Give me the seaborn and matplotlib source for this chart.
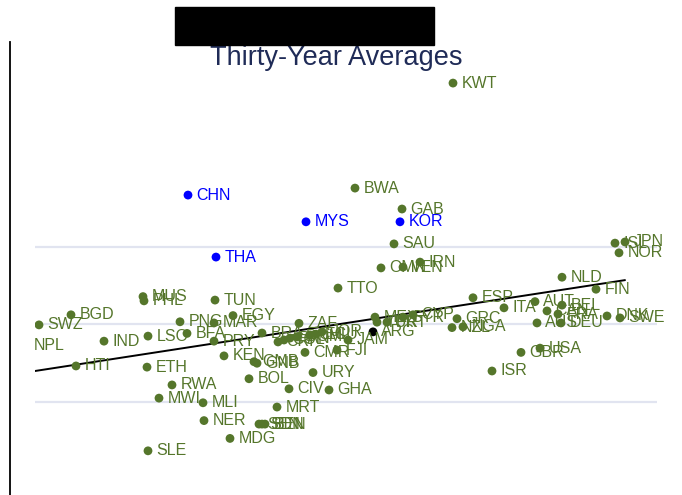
import numpy as np
import pandas as pd
import matplotlib
matplotlib.use("Agg")
import matplotlib.pyplot as plt
import seaborn as sns
from matplotlib.patches import Rectangle

# country codes, log initial income (x) and average growth (y)
countries = ["CHN", "MYS", "KOR", "THA",
             "KWT", "BWA", "GAB", "SAU", "OMN", "VEN", "IRN", "TTO", "TUN",
             "MUS", "PHL", "BGD", "SWZ", "NPL", "IND", "LSO", "PNG", "BFA",
             "HTI", "ETH", "RWA", "MWI", "MLI", "NER", "SLE", "MDG", "SEN",
             "SDN", "BEN", "MRT", "BOL", "CIV", "GHA", "URY", "KEN", "GMB",
             "GNB", "CMR", "FJI", "JAM", "ZAF", "EGY", "MAR", "PRY", "BRA",
             "CRI", "COL", "PAN", "DOM", "CHL", "ECU", "JOR", "MEX", "TUR",
             "PRT", "ARG", "SYR", "CYP", "GRC", "NZL", "NGA", "ESP", "ITA",
             "AUT", "BEL", "NLD", "FIN", "ISR", "GBR", "USA", "CAN", "FRA",
             "AUS", "DEU", "DNK", "SWE", "ISL", "JPN", "NOR"]
log_income = [6.765, 7.355, 7.825, 6.905,
              8.09, 7.60, 7.835, 7.795, 7.73, 7.84, 7.925, 7.515, 6.90,
              6.54, 6.545, 6.18, 6.02, 5.95, 6.345, 6.565, 6.725, 6.76,
              6.205, 6.56, 6.685, 6.62, 6.84, 6.845, 6.565, 6.975, 7.12,
              7.135, 7.15, 7.21, 7.07, 7.27, 7.47, 7.39, 6.945, 7.095,
              7.11, 7.35, 7.51, 7.565, 7.32, 6.99, 6.895, 6.895, 7.135,
              7.215, 7.245, 7.275, 7.31, 7.375, 7.405, 7.435, 7.70, 7.71,
              7.76, 7.69, 7.84, 7.89, 8.11, 8.085, 8.14, 8.19, 8.345,
              8.50, 8.635, 8.635, 8.805, 8.285, 8.43, 8.525, 8.56, 8.615,
              8.51, 8.63, 8.86, 8.925, 8.90, 8.95, 8.92]
growth = [5.34, 4.65, 4.65, 3.74,
          8.23, 5.52, 4.98, 4.08, 3.46, 3.48, 3.61, 2.94, 2.63,
          2.72, 2.61, 2.25, 1.99, 1.45, 1.57, 1.70, 2.07, 1.77,
          0.93, 0.90, 0.44, 0.10, -0.02, -0.48, -1.26, -0.94, -0.57,
          -0.57, -0.57, -0.13, 0.60, 0.34, 0.31, 0.76, 1.19, 1.04,
          1.00, 1.28, 1.34, 1.60, 2.03, 2.23, 2.04, 1.57, 1.78,
          1.55, 1.60, 1.65, 1.68, 1.73, 1.75, 1.81, 2.19, 2.06,
          2.06, 1.81, 2.19, 2.25, 2.15, 1.92, 1.94, 2.69, 2.43,
          2.59, 2.50, 3.22, 2.91, 0.80, 1.28, 1.39, 2.35, 2.27,
          2.04, 2.04, 2.22, 2.17, 4.10, 4.13, 3.85]
highlight = ["CHN", "MYS", "KOR", "THA"]
dark = ["ARG"]

# fitted line
slope = 0.795
intercept = -3.97

df = pd.DataFrame({"country": countries, "x": log_income, "y": growth})
df["group"] = np.where(df["country"].isin(highlight), "asia",
                       np.where(df["country"].isin(dark), "dark", "other"))

green = "#55762b"
palette = {"other": green, "asia": "#0000ff", "dark": "#000000"}

sns.set_style("white")
plt.rcParams["font.family"] = ["Liberation Sans", "DejaVu Sans"]

fig = plt.figure(figsize=(6.82, 4.95), dpi=100)
ax = fig.add_axes([35 / 682, 0, 622 / 682, 453 / 495])

ax.set_yticks([0, 2, 4])
ax.yaxis.grid(True, color="#e1e4f0", linewidth=1.6)
ax.set_axisbelow(True)

xs = np.array([df["x"].min(), df["x"].max()])
ax.plot(xs, intercept + slope * xs, color="black", linewidth=1.4, zorder=2)

sns.scatterplot(data=df, x="x", y="y", hue="group", palette=palette,
                s=40, edgecolor="none", legend=False, ax=ax, zorder=3)

for _, r in df.iterrows():
    ax.annotate(r["country"], (r["x"], r["y"]), xytext=(6, 0),
                textcoords="offset points", va="center", ha="left",
                fontsize=11.5, color=palette[r["group"]] if r["group"] == "asia" else green,
                annotation_clip=False, zorder=4)

ax.set_xlim(6.0, 9.11)
ax.set_ylim(-2.4, 9.29)
ax.set_xlabel("")
ax.set_ylabel("")
ax.tick_params(left=False, bottom=False, labelleft=False, labelbottom=False)
for side in ["top", "right", "bottom"]:
    ax.spines[side].set_visible(False)
ax.spines["left"].set_position(("outward", 18))
ax.spines["left"].set_color("black")
ax.spines["left"].set_linewidth(1.3)

fig.text(336 / 682, 1 - 65 / 495, "Thirty-Year Averages", ha="center",
         va="baseline", fontsize=19.5, color="#1f2b57")
fig.patches.append(Rectangle((175 / 682, 1 - 45 / 495), 259 / 682, 38 / 495,
                             transform=fig.transFigure, color="black",
                             zorder=5))

fig.savefig("out.png", dpi=100)
